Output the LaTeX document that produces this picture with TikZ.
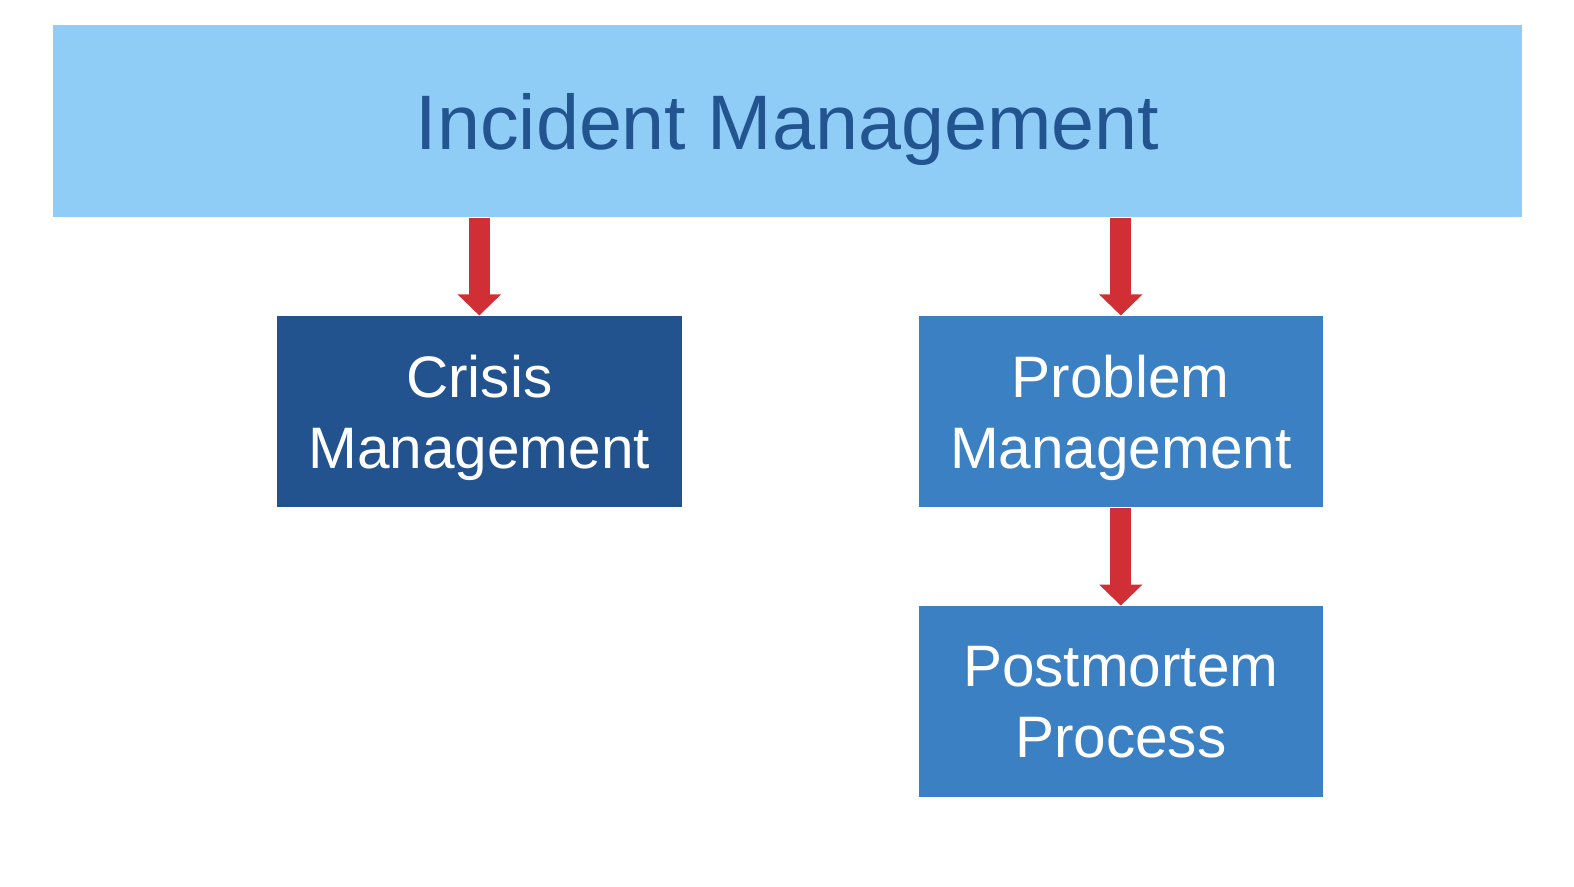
\documentclass[tikz,border=0pt]{standalone}
\usepackage{fontspec}
\setmainfont{Liberation Sans}
\usepackage{xcolor}
\usetikzlibrary{arrows.meta}

\definecolor{lightsky}{HTML}{8FCDF7}
\definecolor{titleblue}{HTML}{22548F}
\definecolor{darkblue}{HTML}{23538E}
\definecolor{midblue}{HTML}{3B80C3}
\definecolor{arrowred}{HTML}{D03035}

\tikzset{
    topbox/.style = {fill = lightsky, minimum width = 14.686cm, minimum height = 1.917cm,
        inner sep = 0pt, text depth = 0pt, text = titleblue, font = \fontsize{22}{26}\selectfont},
    subbox/.style = {minimum width = 4.046cm, minimum height = 1.908cm, inner sep = 0pt,
        text depth = 0pt, align = center, text = white, font = \fontsize{16.65}{20.1}\selectfont},
    bigarrow/.style = {draw = arrowred, line width = 5.9pt,
        -{Triangle[width = 12pt, length = 6pt]}}
}

\begin{document}
\begin{tikzpicture}
        \useasboundingbox (0, 0) rectangle (15.74, -8.86);

        \node[topbox] (incident) at (7.875, -1.21) {Incident Management};
        \node[subbox, fill = darkblue] (crisis) at (4.793, -4.116) {Crisis\\Management};
        \node[subbox, fill = midblue] (problem) at (11.208, -4.116) {Problem\\Management};
        \node[subbox, fill = midblue] (postmortem) at (11.208, -7.017) {Postmortem\\Process};

        \draw[bigarrow] (incident.south -| crisis.north) -- (crisis.north);
        \draw[bigarrow] (incident.south -| problem.north) -- (problem.north);
        \draw[bigarrow] (problem.south) -- (postmortem.north);
    \end{tikzpicture}
\end{document}
